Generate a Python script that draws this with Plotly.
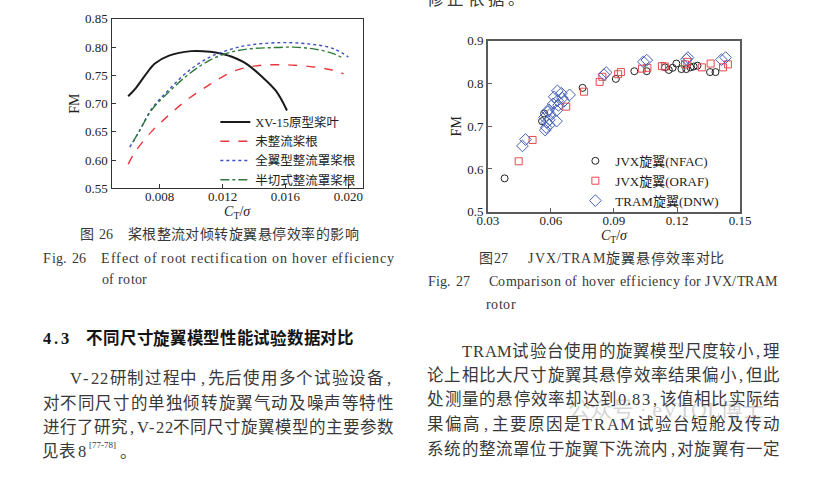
import plotly.graph_objects as go

W, H = 816, 478

# ---------------- Fig. 26 data (C_T/sigma vs FM) ----------------
xv15_ct = [0.0060, 0.0065, 0.0071, 0.0077, 0.0086, 0.0100, 0.0112, 0.0120, 0.0126, 0.0135, 0.0145, 0.0154, 0.0161]
xv15_fm = [0.713, 0.728, 0.751, 0.771, 0.785, 0.793, 0.792, 0.788, 0.783, 0.771, 0.748, 0.7225, 0.688]

noroot_ct = [0.0060, 0.0065, 0.0075, 0.0086, 0.0098, 0.0112, 0.0125, 0.0135, 0.0145, 0.0155, 0.0166, 0.0178, 0.0189, 0.0197]
noroot_fm = [0.593, 0.617, 0.651, 0.680, 0.708, 0.734, 0.755, 0.764, 0.768, 0.769, 0.768, 0.765, 0.760, 0.753]

fullfair_ct = [0.0061, 0.0067, 0.0075, 0.0086, 0.0098, 0.0112, 0.0125, 0.0137, 0.0157, 0.0176, 0.0191, 0.0200]
fullfair_fm = [0.623, 0.651, 0.691, 0.725, 0.757, 0.7825, 0.796, 0.8037, 0.808, 0.8054, 0.797, 0.7825]

halfcut_ct = [0.0063, 0.0067, 0.0075, 0.0086, 0.0098, 0.0112, 0.0125, 0.0137, 0.0150, 0.0165, 0.0178, 0.0190, 0.0197]
halfcut_fm = [0.632, 0.651, 0.689, 0.721, 0.751, 0.777, 0.791, 0.797, 0.799, 0.800, 0.797, 0.789, 0.780]

fig26_names = ["XV-15原型桨叶", "未整流桨根", "全翼型整流罩桨根", "半切式整流罩桨根"]
fig26_xticks = [0.008, 0.012, 0.016, 0.020]
fig26_yticks = [0.55, 0.60, 0.65, 0.70, 0.75, 0.80, 0.85]

# ---------------- Fig. 27 data ----------------
nfac_ct = [0.0380, 0.0558, 0.0568, 0.0751, 0.0909, 0.0997, 0.1056, 0.1143, 0.1161, 0.1179, 0.1197,
           0.1221, 0.1244, 0.1264, 0.1279, 0.1297, 0.1357, 0.1383]
nfac_fm = [0.578, 0.712, 0.730, 0.790, 0.811, 0.829, 0.829, 0.838, 0.832, 0.837, 0.847,
           0.834, 0.834, 0.838, 0.840, 0.842, 0.827, 0.827]

oraf_ct = [0.0447, 0.0513, 0.0673, 0.0758, 0.0832, 0.0845, 0.0920, 0.0933, 0.1033, 0.1059, 0.1128,
           0.1142, 0.1238, 0.1249, 0.1318, 0.1360, 0.1419, 0.1442]
oraf_fm = [0.618, 0.668, 0.746, 0.781, 0.804, 0.816, 0.822, 0.827, 0.835, 0.837, 0.841,
           0.840, 0.845, 0.851, 0.838, 0.847, 0.838, 0.845]

dnw_ct = [0.0465, 0.0479, 0.0573, 0.0578, 0.0581, 0.0593, 0.0593, 0.0570, 0.0596, 0.0585, 0.0590,
          0.0627, 0.0627, 0.0611, 0.0616, 0.0631, 0.0636, 0.0632, 0.0650, 0.0655, 0.0662, 0.0689,
          0.0853, 0.0863, 0.1040, 0.1056, 0.1245, 0.1252, 0.1411, 0.1431]
dnw_fm = [0.654, 0.669, 0.691, 0.697, 0.709, 0.703, 0.715, 0.721, 0.728, 0.734, 0.739,
          0.712, 0.737, 0.7525, 0.769, 0.783, 0.749, 0.760, 0.7775, 0.766, 0.7586, 0.7736,
          0.821, 0.826, 0.851, 0.855, 0.857, 0.861, 0.856, 0.861]

fig27_names = ["JVX旋翼(NFAC)", "JVX旋翼(ORAF)", "TRAM旋翼(DNW)"]
fig27_xticks = [0.03, 0.06, 0.09, 0.12, 0.15]
fig27_yticks = [0.5, 0.6, 0.7, 0.8, 0.9]

# ---------------- page text ----------------
top_fragment = "修正依据。"
cap26_cn = "桨根整流对倾转旋翼悬停效率的影响"
cap26_en1 = "Effect of root rectification on hover efficiency"
cap26_en2 = "of rotor"
cap27_cn = "JVX/TRAM旋翼悬停效率对比"
cap27_en1 = "Comparison of hover efficiency for JVX/TRAM"
cap27_en2 = "rotor"
heading = "不同尺寸旋翼模型性能试验数据对比"
left_par = ["V-22研制过程中,先后使用多个试验设备,",
            "对不同尺寸的单独倾转旋翼气动及噪声等特性",
            "进行了研究,V-22不同尺寸旋翼模型的主要参数"]
right_par = ["TRAM试验台使用的旋翼模型尺度较小,理",
             "论上相比大尺寸旋翼其悬停效率结果偏小,但此",
             "处测量的悬停效率却达到0.83,该值相比实际结",
             "果偏高,主要原因是TRAM试验台短舱及传动",
             "系统的整流罩位于旋翼下洗流内,对旋翼有一定"]

SERIF = "Liberation Serif, Noto Sans CJK SC"
TXT = "#383838"

LAT = {'0': .5, '1': .5, '2': .5, '3': .5, '4': .5, '5': .5, '6': .5, '7': .5, '8': .5, '9': .5,
       '.': .25, ',': .5, '-': .333, '/': .278, ' ': .25, '(': .333, ')': .333, '[': .333, ']': .333,
       'A': .722, 'C': .667, 'D': .722, 'E': .611, 'F': .556, 'J': .389, 'M': .889, 'N': .722,
       'O': .722, 'R': .667, 'T': .611, 'V': .722, 'W': .944, 'X': .722,
       'a': .444, 'b': .5, 'c': .444, 'd': .5, 'e': .444, 'f': .333, 'g': .5, 'h': .5, 'i': .278,
       'j': .278, 'k': .5, 'l': .278, 'm': .778, 'n': .5, 'o': .5, 'p': .5, 'q': .5, 'r': .333,
       's': .389, 't': .278, 'u': .5, 'v': .5, 'w': .722, 'x': .5, 'y': .5, 'z': .444}

ann = []
DY_BODY = 4.0   # vertical correction for 16.5px text
DY_CAP = 1.5    # vertical correction for 14px text


def cw(ch, size):
    if ord(ch) >= 0x2E80:
        return size
    return LAT.get(ch, 0.5) * size


def justify(text, x0, x1, y, size, color=TXT, bold=False):
    ws = [cw(c, size) for c in text]
    n = len(text)
    gap = (x1 - x0 - sum(ws)) / (n - 1) if n > 1 else 0
    x = x0
    for c, w in zip(text, ws):
        if c != ' ':
            t = "<b>%s</b>" % c if bold else c
            ann.append(dict(text=t, x=(x + w / 2) / W, y=1 - y / H, xref="paper", yref="paper",
                            xanchor="center", yanchor="middle", showarrow=False,
                            font=dict(size=size, color=color, family=SERIF)))
        x += w + gap


def put(text, xc, y, size, color=TXT, anchor="center"):
    ann.append(dict(text=text, x=xc / W, y=1 - y / H, xref="paper", yref="paper",
                    xanchor=anchor, yanchor="middle", showarrow=False,
                    font=dict(size=size, color=color, family=SERIF)))


# top cut-off line
justify(top_fragment, 428, 528, -8, 16.5)
# captions fig 26
yc1, ye1, ye2 = 233.3 + DY_CAP, 257.7 + DY_CAP, 280 + DY_CAP
put("图", 78.5, yc1, 14)
put("26", 97.5, yc1, 14)
justify(cap26_cn, 120, 357, yc1, 14)
justify("Fig. 26", 33.3, 77.3, ye1, 14)
justify(cap26_en1, 93.3, 393.3, ye1, 14)
justify(cap26_en2, 93.3, 140, ye2, 14)
# captions fig 27
yc2, yf1, yf2 = 258.3 + DY_CAP, 281.7 + DY_CAP, 306 + DY_CAP
put("图", 488, yc2, 14)
put("27", 503.5, yc2, 14)
justify(cap27_cn, 531.7, 733, yc2, 14)
justify("Fig. 27", 428.3, 471.7, yf1, 14)
justify(cap27_en1, 491, 788.3, yf1, 14)
justify(cap27_en2, 488.3, 518.3, yf2, 14)
# heading
justify("4.3", 33.3, 60, 338.3 + DY_BODY, 16.5, color="#141414", bold=True)
justify(heading, 78, 352, 338.3 + DY_BODY, 16.5, color="#141414", bold=True)
# left paragraph
justify(left_par[0], 61, 393, 379.3 + DY_BODY, 16.5)
justify(left_par[1], 33, 393, 405 + DY_BODY, 16.5)
justify(left_par[2], 33, 393, 430 + DY_BODY, 16.5)
put("见", 41, 455 + DY_BODY, 16.5)
put("表", 58.5, 455 + DY_BODY, 16.5)
put("8", 73, 455 + DY_BODY, 16.5)
put("[77-78]", 94, 448 + DY_BODY, 9)
put("。", 110, 456 + DY_BODY, 16.5, anchor="left")
# right paragraph
right_y = [351.7, 376.7, 401.7, 427.3, 452.7]
for i, line in enumerate(right_par):
    justify(line, 463.3 if i == 0 else 428.3, 790, right_y[i] + DY_BODY, 16.5)
# watermark
put("公众号 · eVTOL博士", 673, 416, 22, color="rgba(120,120,120,0.32)")

fig = go.Figure()

# Fig. 26 traces
fig.add_trace(go.Scatter(x=xv15_ct, y=xv15_fm, mode="lines", name=fig26_names[0],
                         line=dict(color="#1a1a1a", width=2, shape="spline"),
                         xaxis="x", yaxis="y", legend="legend"))
fig.add_trace(go.Scatter(x=noroot_ct, y=noroot_fm, mode="lines", name=fig26_names[1],
                         line=dict(color="#e8383d", width=1.4, dash="dash", shape="spline"),
                         xaxis="x", yaxis="y", legend="legend"))
fig.add_trace(go.Scatter(x=fullfair_ct, y=fullfair_fm, mode="lines", name=fig26_names[2],
                         line=dict(color="#3a4fc4", width=1.4, dash="dot", shape="spline"),
                         xaxis="x", yaxis="y", legend="legend"))
fig.add_trace(go.Scatter(x=halfcut_ct, y=halfcut_fm, mode="lines", name=fig26_names[3],
                         line=dict(color="#2f7a3a", width=1.4, dash="dashdot", shape="spline"),
                         xaxis="x", yaxis="y", legend="legend"))

# Fig. 27 traces
fig.add_trace(go.Scatter(x=nfac_ct, y=nfac_fm, mode="markers", name=fig27_names[0],
                         marker=dict(symbol="circle-open", size=7, color="#222222", line=dict(width=1)),
                         xaxis="x2", yaxis="y2", legend="legend2"))
fig.add_trace(go.Scatter(x=oraf_ct, y=oraf_fm, mode="markers", name=fig27_names[1],
                         marker=dict(symbol="square-open", size=7, color="#e8474c", line=dict(width=1)),
                         xaxis="x2", yaxis="y2", legend="legend2"))
fig.add_trace(go.Scatter(x=dnw_ct, y=dnw_fm, mode="markers", name=fig27_names[2],
                         marker=dict(symbol="diamond-open", size=9, color="#4460b8", line=dict(width=1)),
                         xaxis="x2", yaxis="y2", legend="legend2"))

tickfont = dict(family="Liberation Serif", size=13, color="#222")
titlefont = dict(family="Liberation Serif", size=14, color="#222")
axis_common = dict(showline=True, mirror=True, ticks="inside", ticklen=4, tickwidth=1,
                   showgrid=False, zeroline=False, tickfont=tickfont)

fig.update_layout(
    width=W, height=H, margin=dict(l=0, r=0, t=0, b=0),
    paper_bgcolor="white", plot_bgcolor="white", showlegend=True,
    annotations=ann,
    xaxis=dict(domain=[103.3 / W, 361.5 / W], anchor="y", range=[0.00494, 0.02092],
               tickvals=fig26_xticks, tickformat=".3f", linecolor="#333", linewidth=1.2,
               tickcolor="#333", ticklabelstandoff=-4,
               title=dict(text="<i>C</i><sub>T</sub>/<i>σ</i>", font=titlefont, standoff=0),
               **axis_common),
    yaxis=dict(domain=[1 - 187.3 / H, 1 - 12.3 / H], anchor="x", range=[0.55, 0.85],
               tickvals=fig26_yticks, tickformat=".2f", linecolor="#333", linewidth=1.2,
               tickcolor="#333",
               title=dict(text="FM", font=titlefont, standoff=2),
               **axis_common),
    xaxis2=dict(domain=[490 / W, 749.3 / W], anchor="y2", range=[0.03, 0.15],
                tickvals=fig27_xticks, tickformat=".2f", linecolor="#5a5a5a", linewidth=1.5,
                tickcolor="#5a5a5a", ticklabelstandoff=-4,
                title=dict(text="<i>C</i><sub>T</sub>/<i>σ</i>", font=titlefont, standoff=0),
                **axis_common),
    yaxis2=dict(domain=[1 - 211.3 / H, 1 - 35 / H], anchor="x2", range=[0.5, 0.9],
                tickvals=fig27_yticks, tickformat=".1f", linecolor="#5a5a5a", linewidth=1.5,
                tickcolor="#5a5a5a",
                title=dict(text="FM", font=titlefont, standoff=2),
                **axis_common),
    legend=dict(x=210 / W, y=1 - 148.5 / H, xanchor="left", yanchor="middle",
                bgcolor="rgba(0,0,0,0)", borderwidth=0, itemwidth=30, tracegroupgap=0,
                font=dict(size=12.5, family=SERIF, color="#222")),
    legend2=dict(x=580 / W, y=1 - 179.5 / H, xanchor="left", yanchor="middle",
                 bgcolor="rgba(0,0,0,0)", borderwidth=0, itemwidth=30, tracegroupgap=0,
                 font=dict(size=13, family=SERIF, color="#222")),
)

fig.write_html("out.html")
